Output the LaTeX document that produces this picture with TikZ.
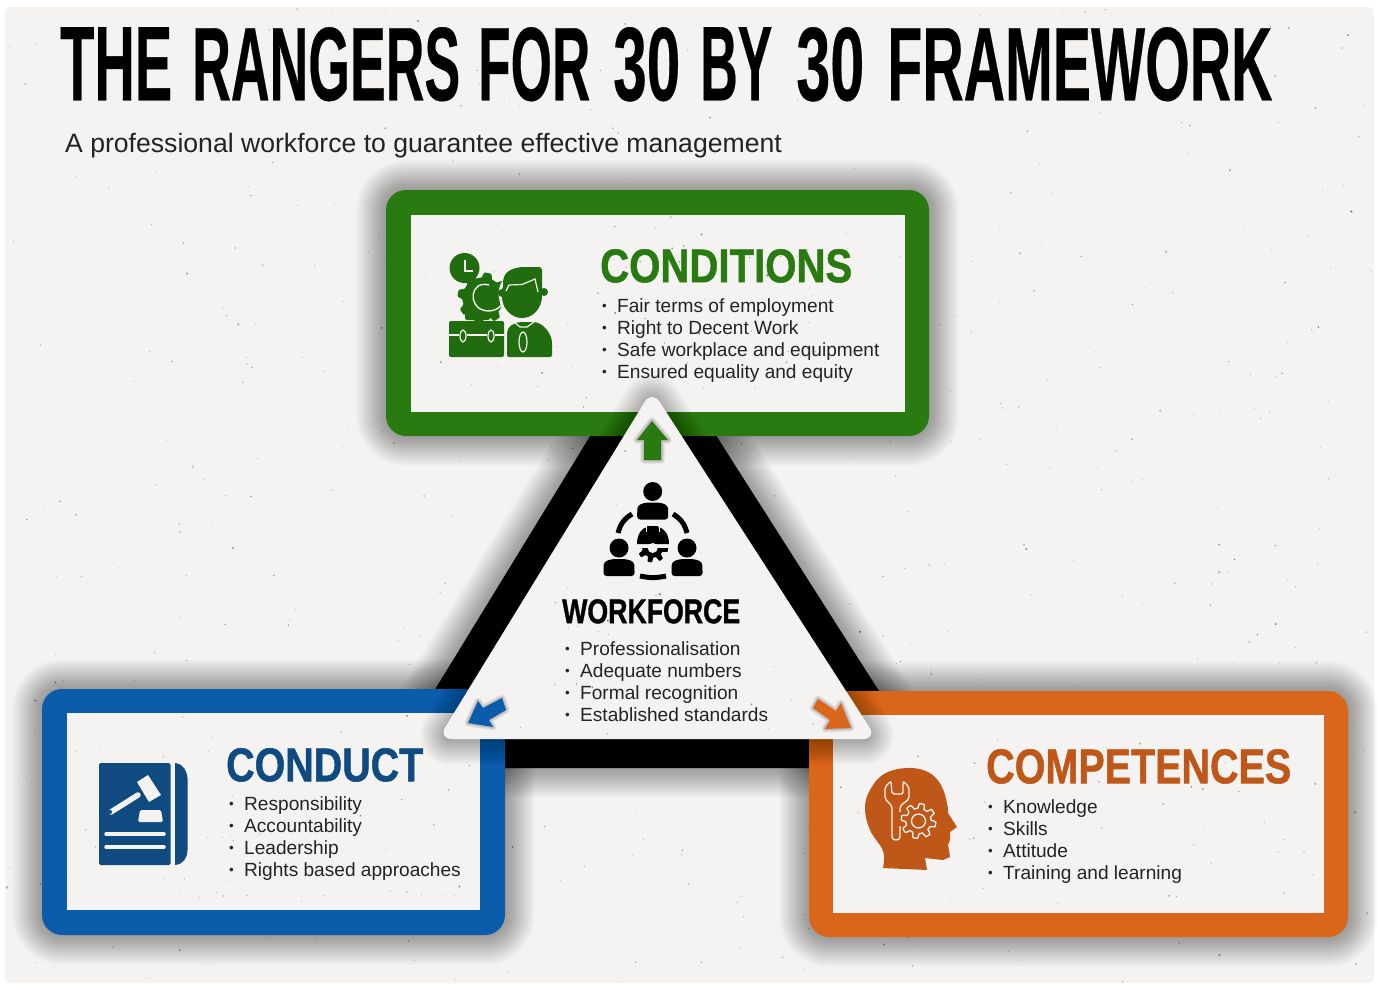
\documentclass[tikz,border=0pt]{standalone}
\usepackage{fontspec}
\setmainfont{Liberation Sans}
\newfontfamily\heavy[BoldFeatures={FakeBold=1.2}]{Liberation Sans}
\newfontfamily\titlefont[BoldFeatures={FakeBold=0.4}]{Liberation Sans}
\definecolor{paper}{HTML}{F4F3F1}
\definecolor{cgreen}{HTML}{2A7A12}
\definecolor{cblue}{HTML}{0B5CAB}
\definecolor{corange}{HTML}{D9661A}
\definecolor{igreen}{HTML}{216C0E}
\definecolor{iblue}{HTML}{0F4A80}
\definecolor{iorange}{HTML}{BF5718}
\definecolor{txt}{HTML}{232323}
\newcommand\softrect[4]{\foreach \i in {1,...,30}{\draw[black,opacity=.011,line width=\i*2pt,rounded corners=20pt] (#1,#2) rectangle (#3,#4);}}
\newcommand\softtri[6]{\foreach \i in {1,...,30}{\draw[black,opacity=.011,line width=\i*2pt,line join=round] (#1,#2) -- (#3,#4) -- (#5,#6) -- cycle;}}
\newcommand\speckle[5]{\foreach \n in {1,...,#1}{\pgfmathsetmacro\rx{#2+rnd*(#3-#2)}\pgfmathsetmacro\ry{#4+rnd*(#5-#4)}\pgfmathsetmacro\rr{0.4+rnd*rnd*1.1}\pgfmathsetmacro\ro{0.12+rnd*.35}\fill[black,opacity=\ro] (\rx,\ry) circle[radius=\rr pt];}}
\newcommand\gearpath[5]{plot[samples=#5*12,domain=0:360,smooth] ({#1+(#3+#4*min(1,max(-1,2.5*sin(#5*\x))))*cos(\x)},{#2+(#3+#4*min(1,max(-1,2.5*sin(#5*\x))))*sin(\x)}) -- cycle}
\newcommand\bul{\llap{\raisebox{2pt}{\scalebox{.7}{•}}\hspace{10.5pt}}}
\newcommand\blist[7]{%
 \node[item] (#1a) at (#2,#3) {\bul #4};
 \node[item] (#1b) at (#2,#3+22) {\bul #5};
 \node[item] (#1c) at (#2,#3+44) {\bul #6};
 \node[item] (#1d) at (#2,#3+66) {\bul #7};}
\newcommand\person[3]{%
 \fill[#3] (#1,#2) circle[radius=9.5pt];
 \fill[#3,rounded corners=3pt] ({#1-15.5},{#2+28}) -- ({#1-15.5},{#2+20}) .. controls ({#1-15},{#2+13}) and ({#1-10},{#2+12}) .. ({#1-6},{#2+11}) -- ({#1+6},{#2+11}) .. controls ({#1+10},{#2+12}) and ({#1+15},{#2+13}) .. ({#1+15.5},{#2+20}) -- ({#1+15.5},{#2+28}) -- cycle;}
\newcommand\tw[2]{\resizebox{#1pt}{73pt}{#2}}
\tikzset{
 x=1pt,y=-1pt,
 item/.style={anchor=base west,inner sep=0pt,text=txt,font=\fontsize{19.1}{22}\selectfont},
 head/.style={anchor=north west,inner sep=0pt,font=\heavy\bfseries},
}
\begin{document}
\begin{tikzpicture}
\useasboundingbox (0,0) rectangle (1378,985);
\fill[white] (0,0) rectangle (1378,985);
\fill[paper,rounded corners=6pt] (5,7) rectangle (1374,983);
\pgfmathsetseed{4217}
\begin{scope}
\clip (5,7) rectangle (1374,983);
\speckle{650}{6}{1372}{8}{982}
\end{scope}
% black triangle
\softtri{652}{335}{387}{768}{928}{768}
\fill[black] (652,335) -- (387,768) -- (928,768) -- cycle;
% boxes
\softrect{386}{190}{929}{436}
\softrect{42}{689}{505}{935}
\softrect{809}{691}{1348}{937}
\fill[cgreen,rounded corners=20pt] (386,190) rectangle (929,436);
\fill[cblue,rounded corners=20pt] (42,689) rectangle (505,935);
\fill[corange,rounded corners=20pt] (809,691) rectangle (1348,937);
\fill[paper] (411,215) rectangle (905,412);
\fill[paper] (67,713) rectangle (480,910);
\fill[paper] (833,715) rectangle (1324,913);
\speckle{70}{413}{903}{217}{410}
\speckle{60}{69}{478}{715}{908}
\speckle{60}{835}{1322}{717}{911}
% white triangle
\softtri{652}{404}{450}{735}{864}{735}
\fill[paper,rounded corners=14pt] (652,390) -- (438,739) -- (877,739) -- cycle;
\begin{scope}
\clip (652,400) -- (450,738) -- (865,738) -- cycle;
\speckle{70}{440}{870}{400}{738}
\end{scope}
% arrows
\foreach \i in {1,...,5}{\draw[black,opacity=.05,line width=\i*1.6pt,line join=round] (652,421)--(668,440)--(661,440)--(661,460)--(644,460)--(644,440)--(637,440)--cycle;}
\fill[cgreen] (652,421)--(668,440)--(661,440)--(661,460)--(644,460)--(644,440)--(637,440)--cycle;
\foreach \i in {1,...,5}{\draw[black,opacity=.05,line width=\i*1.4pt,line join=round] (468,723)--(478,701)--(483,708)--(502,698)--(506,710)--(489,720)--(493,727)--cycle;
\draw[black,opacity=.05,line width=\i*1.4pt,line join=round] (851,728)--(841,703)--(836,711)--(818,699)--(813,708)--(830,720)--(825,729)--cycle;}
\fill[cblue] (468,723)--(478,701)--(483,708)--(502,698)--(506,710)--(489,720)--(493,727)--cycle;
\fill[corange] (851,728)--(841,703)--(836,711)--(818,699)--(813,708)--(830,720)--(825,729)--cycle;
% conditions icon
\fill[igreen] (464.5,268) circle[radius=15pt];
\draw[paper,line width=1.4pt] (465,260)--(465,271)--(473,271);
\fill[igreen] \gearpath{483}{298}{23}{2.5}{8};
\draw[paper,line width=1.4pt] (489,285) .. controls (470,280) and (468,306) .. (483,310) .. controls (488,312) and (498,311) .. (502,304);
\fill[igreen,rounded corners=2pt] (465,312) rectangle (490,320);
\draw[paper,line width=3pt,rounded corners=8pt] (500,300) -- (500,285) -- (515,270) -- (545,266) -- (548,300) -- (536,320) -- (508,320) -- cycle;
\fill[igreen,rounded corners=2pt] (449,321) rectangle (504,357);
\draw[paper,line width=1.3pt] (449,335)--(504,335);
\foreach \q in {463,491}{\fill[igreen] (\q,336) ellipse[x radius=4pt,y radius=7pt];\draw[paper,line width=1.2pt] (\q,336) ellipse[x radius=3pt,y radius=6pt];}
\fill[igreen,rounded corners=2pt] (507,357) -- (507,335) .. controls (507,326) and (515,323) .. (520,322) -- (535,322) .. controls (545,325) and (552,335) .. (552,345) -- (552,357) -- cycle;
\draw[paper,line width=1.2pt] (523,342) ellipse[x radius=4pt,y radius=10pt];
\draw[paper,line width=1.2pt] (514,322)--(520,327)--(527,327)--(534,322);
\fill[igreen] (522,296) ellipse[x radius=20pt,y radius=22pt];
\fill[igreen] (502,293) circle[radius=4pt];
\fill[igreen] (544,292) circle[radius=4pt];
\fill[igreen,rounded corners=3pt] (503,292) -- (503,280) .. controls (507,268) and (520,267) .. (528,267) -- (542,267) -- (542,293) -- (538,293) -- (535,279) -- (522,284) -- (508,284) -- cycle;
\draw[paper,line width=1.2pt] (506,291) -- (509,285) -- (522,284.5) -- (535,279) -- (538,292);
% workforce icon
\person{652.7}{491.5}{black}
\person{619}{548}{black}
\person{687}{548}{black}
\draw[black,line width=5pt] (618,533) to[bend left=22] (632,514);
\draw[black,line width=5pt] (673,514) to[bend left=22] (687,533);
\draw[black,line width=5pt] (640,576) to[bend right=12] (666,576);
\fill[black] (637,544) .. controls (637,534) and (642,528) .. (647,527) -- (647,526) -- (658,526) -- (658,527) .. controls (664,528) and (669,534) .. (669,544) -- cycle;
\draw[paper,line width=1pt] (646.5,532)--(646.5,527) (659,532)--(659,527);
\begin{scope}
\clip (630,548) rectangle (676,570);
\fill[black] \gearpath{652.7}{547}{13}{2.4}{8};
\end{scope}
\fill[paper] (652.7,548) circle[radius=5pt];
% conduct icon
\fill[iblue,rounded corners=1.5pt] (99,763) rectangle (170.5,865);
\fill[iblue] (175,763) .. controls (184,764) and (187,772) .. (187.5,778) -- (187.5,850) .. controls (187,858) and (184,864) .. (175,865) -- cycle;
\draw[paper,line width=5.5pt,line cap=round] (111,812)--(138,795);
\fill[paper] (137,782)--(148,775)--(161,795)--(149,802)--cycle;
\fill[iblue] (110,812) circle[radius=2pt];
\fill[paper,rounded corners=1.5pt] (138,822) -- (140,810) -- (161,810) -- (163,822) -- cycle;
\draw[paper,line width=3.5pt,line cap=round] (106,834)--(164,834);
\draw[paper,line width=3.5pt,line cap=round] (106,847)--(164,847);
% competences icon
\fill[iorange] plot[smooth,tension=.65] coordinates {(883,868) (883,851) (870,830) (865,808) (870,790) (884,774) (907,768) (928,772) (941,785) (947,803) (948,813)} -- (957,827) -- (950,832) -- (950,840) -- (948,845) -- (950,857) -- (943,860) -- (925,858) -- (927,870) -- cycle;
\draw[paper,line width=1.3pt,line join=round,rounded corners=2pt] (900,826) -- (900,835) .. controls (900,841) and (892,841) .. (892,835) -- (892,806) -- (885,799) -- (885,787) -- (891,781) -- (892,794) -- (903,794) -- (903,781) -- (909,787) -- (909,799) -- (900,806) -- (900,812);
\draw[paper,line width=1.3pt] \gearpath{918.5}{821}{15}{2.4}{8};
\draw[paper,line width=1.3pt] (918.5,821) circle[radius=7pt];
% text
\node[anchor=north west,inner sep=0pt,font=\titlefont\bfseries] (title) at (60,27) {\tw{112}{THE}\hspace{20pt}\tw{268}{RANGERS}\hspace{18pt}\tw{112}{FOR}\hspace{23pt}\tw{67}{30}\hspace{20pt}\tw{72}{BY}\hspace{24pt}\tw{68}{30}\hspace{23pt}\tw{385}{FRAMEWORK}};
\node[anchor=base west,inner sep=0pt,text=txt,font=\fontsize{26.6}{30}\selectfont] (subtitle) at (65,152) {A professional workforce to guarantee effective management};
\node[head,text=cgreen] (conditions) at (600,249) {\resizebox{252pt}{33pt}{CONDITIONS}};
\blist{cnd}{617}{312}{Fair terms of employment}{Right to Decent Work}{Safe workplace and equipment}{Ensured equality and equity}
\node[head,text=iblue] (conduct) at (226,748) {\resizebox{197pt}{33pt}{CONDUCT}};
\blist{cdt}{244}{810}{Responsibility}{Accountability}{Leadership}{Rights based approaches}
\node[head,text=iorange] (competences) at (986,749) {\resizebox{305pt}{34pt}{COMPETENCES}};
\blist{cmp}{1003}{813}{Knowledge}{Skills}{Attitude}{Training and learning}
\node[head,text=black] (workforce) at (562,599) {\resizebox{178pt}{24pt}{WORKFORCE}};
\blist{wrk}{580}{655}{Professionalisation}{Adequate numbers}{Formal recognition}{Established standards}
\end{tikzpicture}
\end{document}
